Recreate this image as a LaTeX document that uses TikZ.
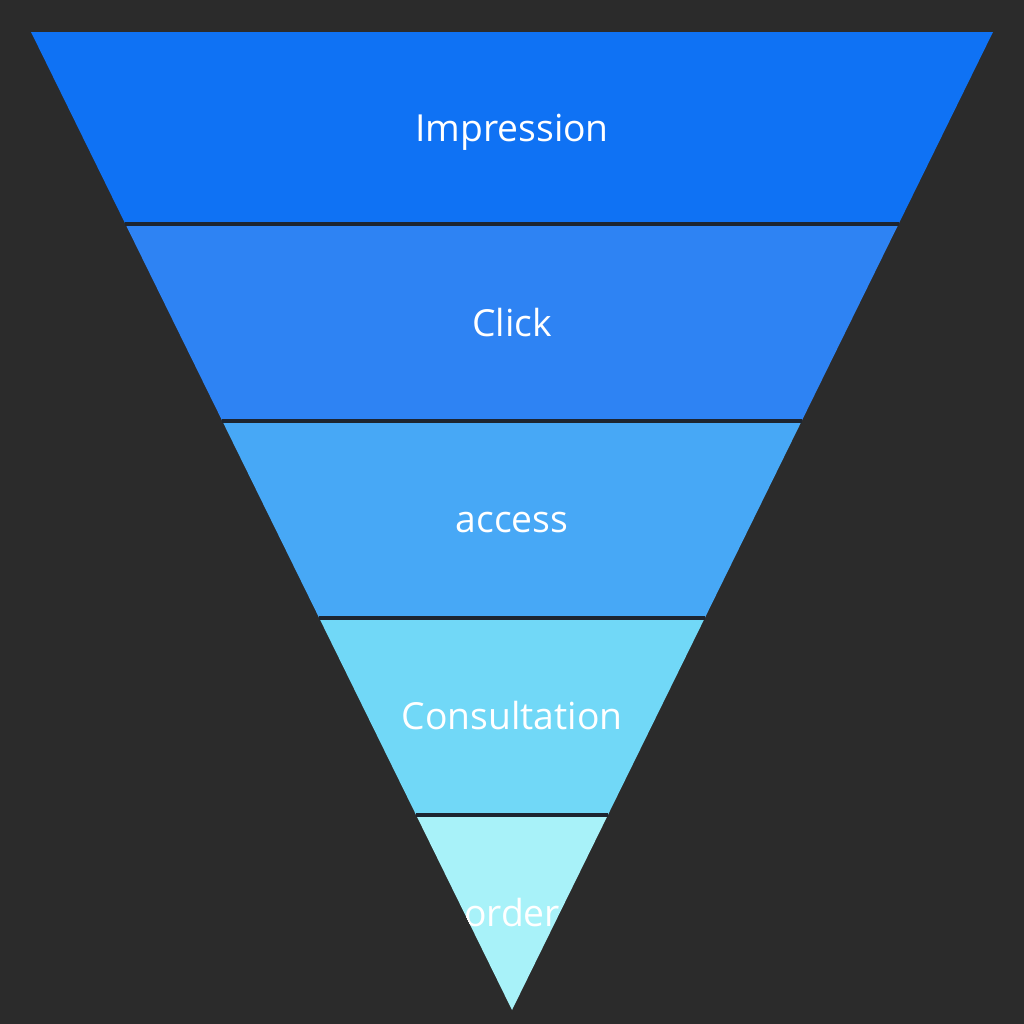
\documentclass[tikz,border=0pt]{standalone}
\usepackage{fontspec}
\setmainfont{Open Sans}
\definecolor{bgdark}{HTML}{2B2B2B}
\definecolor{sepline}{HTML}{1D2530}
\definecolor{bandA}{HTML}{0F72F4}
\definecolor{bandB}{HTML}{2E83F3}
\definecolor{bandC}{HTML}{47A8F6}
\definecolor{bandD}{HTML}{71D8F7}
\definecolor{bandE}{HTML}{A8F2F9}

\begin{document}
\begin{tikzpicture}[x=0.01cm, y=-0.01cm,
    stagetext/.style={text=white, inner sep=0pt, anchor=base, font=\fontsize{10.6}{12}\selectfont},
    sep/.style={draw=sepline, line width=0.04cm}]
    % background
    \fill[bgdark] (0,0) rectangle (1024,1024);

    % bands, top to bottom
    \fill[bandA] (31,32) -- (993,32) -- (898.6,224) -- (125.4,224) -- cycle;
    \fill[bandB] (125.4,224) -- (898.6,224) -- (801.7,421) -- (222.3,421) -- cycle;
    \fill[bandC] (222.3,421) -- (801.7,421) -- (704.8,618) -- (319.2,618) -- cycle;
    \fill[bandD] (319.2,618) -- (704.8,618) -- (607.9,815) -- (416.1,815) -- cycle;
    \fill[bandE] (416.1,815) -- (607.9,815) -- (512,1010) -- cycle;

    % separators
    \draw[sep] (125.4,224) -- (898.6,224);
    \draw[sep] (222.3,421) -- (801.7,421);
    \draw[sep] (319.2,618) -- (704.8,618);
    \draw[sep] (416.1,815) -- (607.9,815);

    % stage names (base line)
    \node[stagetext] (impression) at (512,141) {Impression};
    \node[stagetext] (click) at (512,336) {Click};
    \node[stagetext] (access) at (512,532) {access};
    \node[stagetext] (consultation) at (512,729) {Consultation};
    \begin{scope}
        \clip (416.1,817) -- (607.9,817) -- (512,1010) -- cycle;
        \node[stagetext] (order) at (512,926) {order};
    \end{scope}
\end{tikzpicture}
\end{document}
